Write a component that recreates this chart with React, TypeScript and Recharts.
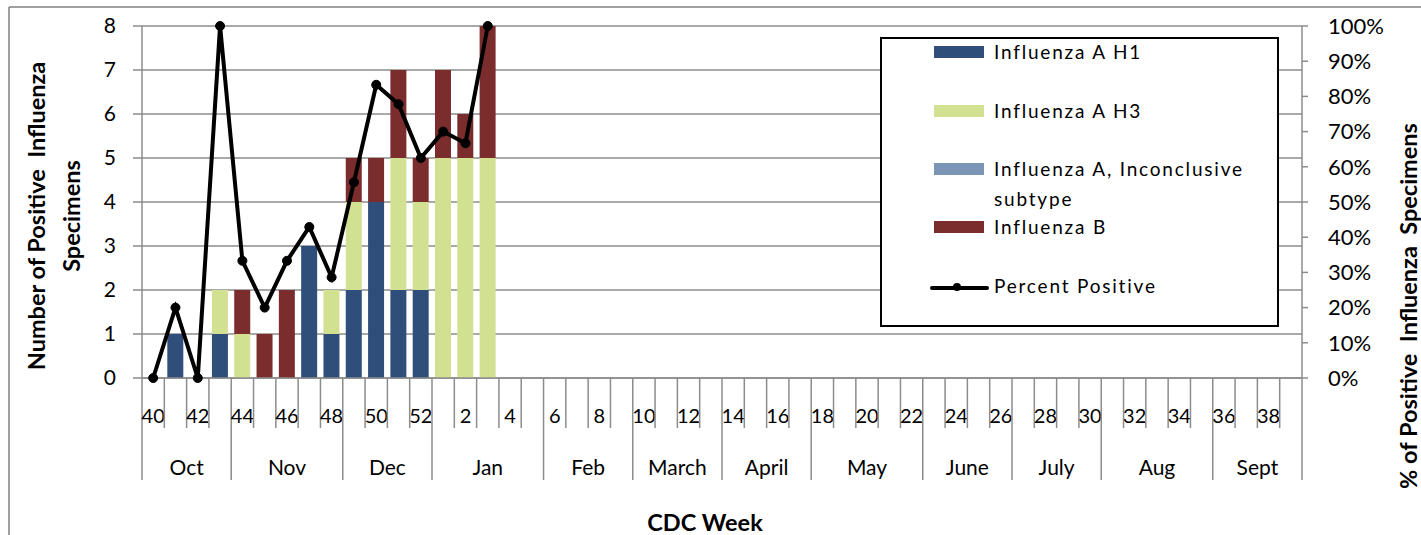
import { Bar, CartesianGrid, ComposedChart, Line, XAxis, YAxis } from "recharts";

// CDC weeks, Oct -> Sept
const weeks = [
  "40", "41", "42", "43", "44", "45", "46", "47", "48", "49", "50", "51", "52",
  "1", "2", "3", "4", "5", "6", "7", "8", "9", "10", "11", "12", "13", "14", "15",
  "16", "17", "18", "19", "20", "21", "22", "23", "24", "25", "26", "27", "28", "29",
  "30", "31", "32", "33", "34", "35", "36", "37", "38", "39",
];
const months = ["Oct", "Nov", "Dec", "Jan", "Feb", "March", "April", "May", "June", "July", "Aug", "Sept"];
const monthWeeks = [4, 5, 4, 5, 4, 4, 4, 5, 4, 4, 5, 4];

// reported weeks 40 .. 3, nothing after
const fluAH1 = [0, 1, 0, 1, 0, 0, 0, 3, 1, 2, 4, 2, 2, 0, 0, 0];
const fluAH3 = [0, 0, 0, 1, 1, 0, 0, 0, 1, 2, 0, 3, 2, 5, 5, 5];
const fluAInconclusive = [0, 0, 0, 0, 0, 0, 0, 0, 0, 0, 0, 0, 0, 0, 0, 0];
const fluB = [0, 0, 0, 0, 1, 1, 2, 0, 0, 1, 1, 2, 1, 2, 1, 3];
const percentPositive = [0, 20, 0, 100, 33.3, 20, 33.3, 42.9, 28.6, 55.6, 83.3, 77.8, 62.5, 70, 66.7, 100];

const countTicks = [0, 1, 2, 3, 4, 5, 6, 7, 8];
const pctTicks = [0, 10, 20, 30, 40, 50, 60, 70, 80, 90, 100];

const data = weeks.map((week, i) => ({
  week,
  h1: fluAH1[i] ?? null,
  h3: fluAH3[i] ?? null,
  inconc: fluAInconclusive[i] ?? null,
  b: fluB[i] ?? null,
  pct: percentPositive[i] ?? null,
}));

const W = 1421;
const H = 535;
const PLOT_LEFT = 142;
const PLOT_RIGHT = 1302;
const PLOT_BOTTOM = 378;
const BAND = (PLOT_RIGHT - PLOT_LEFT) / weeks.length;
const GRID = "#8c8c8c";
const FONT = "Lato, 'Open Sans', sans-serif";

const monthStarts = monthWeeks.map((_, i) => monthWeeks.slice(0, i).reduce((a, b) => a + b, 0));

const COLORS = {
  h1: "#2f4f7a",
  h3: "#d2e091",
  inconc: "#7a95b5",
  b: "#7b2c2c",
};

function WeekTick({ x, index, payload }: any) {
  const left = x - BAND / 2;
  const mi = monthStarts.indexOf(index);
  const isStart = mi >= 0;
  return (
    <g>
      <line x1={left} x2={left} y1={PLOT_BOTTOM} y2={isStart ? 480 : 428} stroke={GRID} strokeWidth={1.5} />
      {index === weeks.length - 1 && (
        <line x1={x + BAND / 2} x2={x + BAND / 2} y1={PLOT_BOTTOM} y2={480} stroke={GRID} strokeWidth={1.5} />
      )}
      {index % 2 === 0 && (
        <text x={x} y={423} textAnchor="middle" fontSize={20} fontFamily={FONT} fill="#000">
          {payload.value}
        </text>
      )}
      {isStart && (
        <text
          x={left + (monthWeeks[mi] * BAND) / 2}
          y={475}
          textAnchor="middle"
          fontSize={21}
          fontFamily={FONT}
          fill="#000"
        >
          {months[mi]}
        </text>
      )}
    </g>
  );
}

const legendItems = [
  { label: "Influenza A H1", color: COLORS.h1, top: 15 },
  { label: "Influenza A H3", color: COLORS.h3, top: 74 },
  { label: "Influenza A, Inconclusive", sub: "subtype", color: COLORS.inconc, top: 132 },
  { label: "Influenza B", color: COLORS.b, top: 190 },
];

function LegendBox() {
  const textStyle = {
    position: "absolute" as const,
    left: 112,
    fontFamily: FONT,
    fontSize: 19,
    letterSpacing: 1.8,
    lineHeight: "20px",
    color: "#000",
    whiteSpace: "nowrap" as const,
  };
  return (
    <div
      style={{
        position: "absolute",
        left: 880,
        top: 37,
        width: 399,
        height: 290,
        border: "2px solid #000",
        boxSizing: "border-box",
        background: "#fff",
      }}
    >
      {legendItems.map((it) => (
        <div key={it.label}>
          <div
            style={{ position: "absolute", left: 52, top: it.top - 8, width: 50, height: 12, background: it.color }}
          />
          <div style={{ ...textStyle, top: it.top - 12 }}>{it.label}</div>
          {it.sub && <div style={{ ...textStyle, top: it.top + 18 }}>{it.sub}</div>}
        </div>
      ))}
      <svg style={{ position: "absolute", left: 48, top: 241 }} width={60} height={16}>
        <line x1={2} x2={57} y1={8} y2={8} stroke="#000" strokeWidth={4} strokeLinecap="round" />
        <circle cx={27} cy={7} r={4} fill="#000" />
      </svg>
      <div style={{ ...textStyle, top: 237 }}>Percent Positive</div>
    </div>
  );
}

export default function App() {
  return (
    <div style={{ position: "absolute", left: 0, top: 0, width: W, height: H, background: "#fff", overflow: "hidden" }}>
      <ComposedChart
        width={W}
        height={H}
        data={data}
        margin={{ top: 26, right: 59, left: 82, bottom: 27 }}
        barSize={16}
      >
        <CartesianGrid vertical={false} stroke={GRID} strokeWidth={1.5} yAxisId="left" />
        <XAxis
          dataKey="week"
          interval={0}
          height={130}
          tickSize={0}
          tickMargin={0}
          axisLine={{ stroke: GRID, strokeWidth: 1.5 }}
          tick={<WeekTick />}
        />
        <YAxis
          yAxisId="left"
          domain={[0, 8]}
          ticks={countTicks}
          width={60}
          tickSize={9}
          tickMargin={17}
          axisLine={{ stroke: GRID, strokeWidth: 1.5 }}
          tickLine={{ stroke: GRID, strokeWidth: 1.5 }}
          tick={{ fill: "#000", fontSize: 21, fontFamily: FONT }}
        />
        <YAxis
          yAxisId="right"
          orientation="right"
          domain={[0, 100]}
          ticks={pctTicks}
          tickFormatter={(v) => `${v}%`}
          width={60}
          tickSize={6}
          tickMargin={20}
          axisLine={{ stroke: GRID, strokeWidth: 1.5 }}
          tickLine={{ stroke: GRID, strokeWidth: 1.5 }}
          tick={{ fill: "#000", fontSize: 22, fontFamily: FONT, textAnchor: "start" }}
        />
        <Bar yAxisId="left" dataKey="h1" stackId="a" fill={COLORS.h1} isAnimationActive={false} />
        <Bar yAxisId="left" dataKey="h3" stackId="a" fill={COLORS.h3} isAnimationActive={false} />
        <Bar yAxisId="left" dataKey="inconc" stackId="a" fill={COLORS.inconc} isAnimationActive={false} />
        <Bar yAxisId="left" dataKey="b" stackId="a" fill={COLORS.b} isAnimationActive={false} />
        <Line
          yAxisId="right"
          dataKey="pct"
          stroke="#000"
          strokeWidth={4}
          dot={{ r: 4.5, fill: "#000", stroke: "#000", strokeWidth: 1 }}
          activeDot={false}
          isAnimationActive={false}
        />
      </ComposedChart>
      <LegendBox />
      <svg
        width={W}
        height={H}
        style={{ position: "absolute", left: 0, top: 0, pointerEvents: "none" }}
        fontFamily={FONT}
        fontWeight="bold"
        fontSize={23.5}
      >
        <line x1={9} x2={W} y1={7} y2={7} stroke="#7f7f7f" strokeWidth={1.5} />
        <line x1={9} x2={9} y1={7} y2={H} stroke="#7f7f7f" strokeWidth={1.5} />
        <text
          transform="translate(36,216) rotate(-90)"
          textAnchor="middle"
          dominantBaseline="central"
          style={{ whiteSpace: "pre" }}
        >
          Number of Positive  Influenza
        </text>
        <text transform="translate(71,216) rotate(-90)" textAnchor="middle" dominantBaseline="central">
          Specimens
        </text>
        <text
          transform="translate(1408,306) rotate(-90)"
          textAnchor="middle"
          dominantBaseline="central"
          style={{ whiteSpace: "pre" }}
        >
          % of Positive  Influenza  Specimens
        </text>
        <text x={705} y={531} textAnchor="middle">
          CDC Week
        </text>
      </svg>
    </div>
  );
}
